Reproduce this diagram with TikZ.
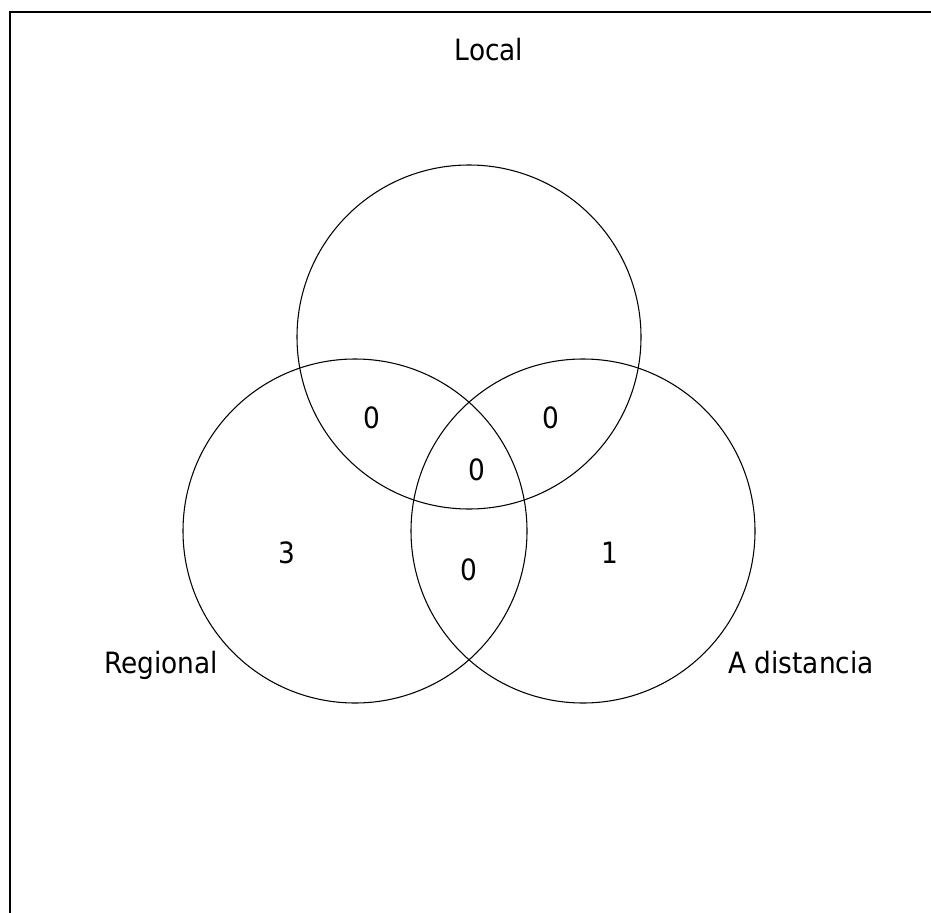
\documentclass[tikz,border=0pt]{standalone}
\usepackage{fontspec}
\setmainfont{DejaVu Sans Condensed}
\usepackage{tikz}
\usetikzlibrary{positioning}

\begin{document}
\begin{tikzpicture}[
  x=0.75pt, y=-0.75pt,
  setcircle/.style={draw=black, line width=0.8pt, circle,
                    minimum size=258pt, inner sep=0pt},
  setlabel/.style={font=\fontsize{22}{26}\selectfont, anchor=base, inner sep=0pt},
  count/.style={font=\fontsize{22}{26}\selectfont, inner sep=0pt},
  frame/.style={draw=black, line width=1.5pt},
]
\useasboundingbox (0,0) rectangle (931,913);
% frame (left and top edges only)
\draw[frame] (10,913) -- (10,12) -- (931,12);
% the three sets
\node[setcircle] (local) at (469,337) {};
\node[setcircle] (regional) at (355,531) {};
\node[setcircle] (distancia) at (583,531) {};
\node[setlabel] (localname) at (489,61) {Local};
\node[setlabel] (regionalname) at (161,673) {Regional};
\node[setlabel] (distancianame) at (801,673) {A distancia};
% counts per region
\node[count] (nlr) at (372,418) {0};
\node[count] (nld) at (551,418) {0};
\node[count] (nall) at (477,470) {0};
\node[count] (nr) at (287,553) {3};
\node[count] (nrd) at (469,570) {0};
\node[count] (nd) at (610,553) {1};
\end{tikzpicture}
\end{document}
